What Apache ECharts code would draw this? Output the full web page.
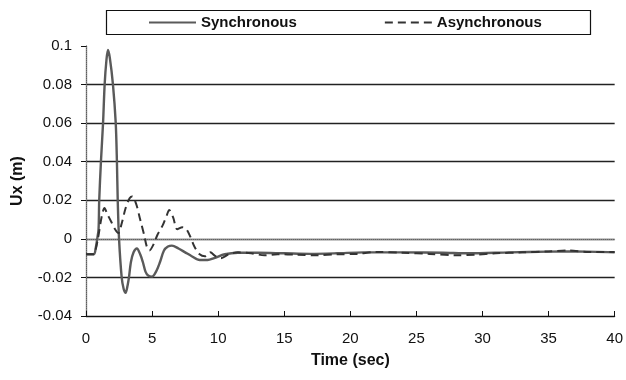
<!DOCTYPE html>
<html>
<head>
<meta charset="utf-8">
<script src="https://cdn.jsdelivr.net/npm/echarts@6/dist/echarts.min.js"></script>
<style>
  html, body { margin: 0; padding: 0; background: #fff; }
  #chart { width: 626px; height: 380px; }
</style>
</head>
<body>
<div id="chart"></div>
<script>
// Displacement Ux (m) versus time (sec)
var seriesNames = ['Synchronous', 'Asynchronous'];

var syncTime = [0, 0.6, 0.73, 0.85, 0.95, 1.0, 1.13, 1.29, 1.41, 1.55, 1.66, 1.8, 2.04, 2.25, 2.34, 2.4, 2.5, 2.7, 2.85, 3.0, 3.15, 3.25, 3.4, 3.6, 3.85, 4.1, 4.3, 4.5, 4.7, 5.0, 5.3, 5.6, 5.9, 6.2, 6.5, 7.0, 7.5, 8.0, 8.6, 9.2, 9.7, 10.5, 11.5, 13, 15, 17, 19, 21, 24, 27, 29, 32, 35, 37, 40];
var syncUx = [-0.008, -0.008, -0.005, 0.0, 0.005, 0.02, 0.04, 0.06, 0.08, 0.093, 0.098, 0.094, 0.08, 0.06, 0.04, 0.02, 0.0, -0.02, -0.026, -0.028, -0.024, -0.02, -0.012, -0.007, -0.005, -0.008, -0.012, -0.017, -0.019, -0.0196, -0.017, -0.012, -0.006, -0.004, -0.0035, -0.005, -0.007, -0.009, -0.011, -0.011, -0.010, -0.008, -0.0072, -0.0072, -0.0075, -0.0078, -0.0075, -0.007, -0.007, -0.0072, -0.0075, -0.007, -0.0066, -0.0065, -0.007];

var asyncTime = [0, 0.6, 0.75, 0.9, 1.0, 1.2, 1.4, 1.6, 1.9, 2.2, 2.45, 2.7, 3.0, 3.3, 3.5, 3.8, 4.1, 4.4, 4.6, 4.8, 5.1, 5.4, 5.8, 6.1, 6.3, 6.6, 6.9, 7.3, 7.6, 7.9, 8.2, 8.6, 9.0, 9.4, 9.8, 10.2, 10.8, 11.5, 12.5, 13.5, 14.5, 16, 17.5, 19, 20.5, 22, 24, 26, 28, 29.5, 31, 33, 35, 36.5, 38, 40];
var asyncUx = [-0.008, -0.008, -0.005, 0.0, 0.004, 0.012, 0.016, 0.013, 0.009, 0.005, 0.003, 0.008, 0.016, 0.021, 0.022, 0.018, 0.010, 0.002, -0.004, -0.006, -0.003, 0.002, 0.007, 0.012, 0.015, 0.011, 0.005, 0.006, 0.005, 0.001, -0.004, -0.008, -0.009, -0.007, -0.009, -0.010, -0.008, -0.007, -0.0075, -0.0085, -0.008, -0.0082, -0.0085, -0.008, -0.0078, -0.0068, -0.0072, -0.0078, -0.0085, -0.0082, -0.0075, -0.007, -0.0065, -0.006, -0.0068, -0.0068];

var xTicks = { min: 0, max: 40, interval: 5 };
var yTicks = { min: -0.04, max: 0.1, interval: 0.02 };

function pairs(ts, vs) {
  return ts.map(function (t, i) { return [t, vs[i]]; });
}

var font = '"Liberation Sans", Arial, sans-serif';
var chart = echarts.init(document.getElementById('chart'), null, { renderer: 'canvas' });

chart.setOption({
  animation: false,
  backgroundColor: '#fff',
  grid: { left: 86, right: 11, top: 46, bottom: 64, containLabel: false },
  graphic: [{
    type: 'rect',
    shape: { x: 106.5, y: 10.5, width: 484, height: 24 },
    style: { fill: '#fff', stroke: '#111', lineWidth: 1.2 },
    z: 0
  }],
  legend: {
    left: 148, top: 15, padding: 0,
    itemWidth: 47, itemHeight: 14, itemGap: 87,
    itemStyle: { color: 'transparent', borderColor: 'transparent', borderWidth: 0 },
    textStyle: { fontFamily: font, fontWeight: 'bold', fontSize: 15, color: '#111' },
    data: seriesNames,
    z: 5
  },
  xAxis: [{
    type: 'value',
    min: xTicks.min, max: xTicks.max, interval: xTicks.interval,
    name: 'Time (sec)', nameLocation: 'middle', nameGap: 37,
    nameTextStyle: { fontFamily: font, fontWeight: 'bold', fontSize: 16, color: '#111' },
    axisLine: { show: true, onZero: false, lineStyle: { color: '#111', width: 1.2 } },
    axisTick: { show: true, inside: true, length: 5, lineStyle: { color: '#111' } },
    axisLabel: { fontFamily: font, fontSize: 15, color: '#111', margin: 15 },
    splitLine: { show: false }
  }, {
    type: 'value', position: 'top',
    min: xTicks.min, max: xTicks.max,
    axisLine: { show: true, lineStyle: { color: '#888', type: 'dotted', width: 1 } },
    axisTick: { show: false }, axisLabel: { show: false }, splitLine: { show: false }
  }],
  yAxis: [{
    type: 'value',
    min: yTicks.min, max: yTicks.max, interval: yTicks.interval,
    name: 'Ux (m)', nameLocation: 'middle', nameGap: 60, nameRotate: 90,
    nameTextStyle: { fontFamily: font, fontWeight: 'bold', fontSize: 16, color: '#111' },
    axisLine: { show: true, onZero: false, lineStyle: { color: '#111', width: 1.2 } },
    axisTick: { show: true, length: 5, lineStyle: { color: '#111' } },
    axisLabel: { fontFamily: font, fontSize: 15, color: '#111', margin: 14 },
    splitLine: {
      show: true,
      lineStyle: { color: ['#222', '#222', '#222', '#222', '#222', '#222', '#222', 'transparent'], width: 1.3 }
    }
  }, {
    type: 'value', position: 'right',
    min: yTicks.min, max: yTicks.max,
    axisLine: { show: true, lineStyle: { color: '#888', type: 'dotted', width: 1 } },
    axisTick: { show: false }, axisLabel: { show: false }, splitLine: { show: false }
  }],
  series: [{
    name: seriesNames[0],
    type: 'line',
    data: pairs(syncTime, syncUx),
    showSymbol: false, symbol: 'none',
    smooth: 0.3,
    lineStyle: { color: '#5a5a5a', width: 2.4 },
    itemStyle: { color: '#5a5a5a' },
    z: 3
  }, {
    name: seriesNames[1],
    type: 'line',
    data: pairs(asyncTime, asyncUx),
    showSymbol: false, symbol: 'none',
    smooth: 0.3,
    lineStyle: { color: '#333', width: 2, type: [8, 5] },
    itemStyle: { color: '#333' },
    z: 4
  }]
});
</script>
</body>
</html>
